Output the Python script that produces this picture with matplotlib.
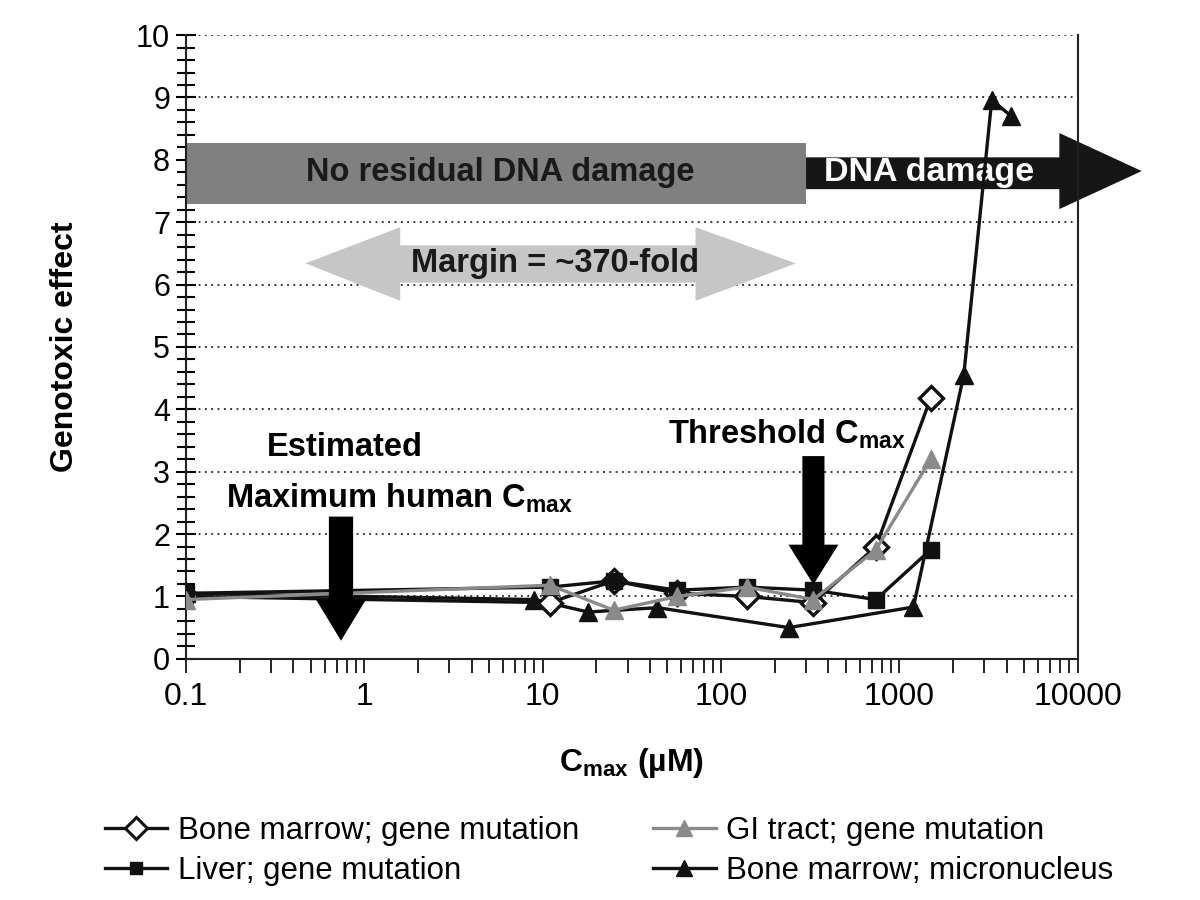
import numpy as np
import matplotlib
matplotlib.use('Agg')
import matplotlib.pyplot as plt
from matplotlib.patches import Polygon
from matplotlib.ticker import MultipleLocator, LogLocator, FixedLocator, NullFormatter
from matplotlib.lines import Line2D

plt.rcParams['font.family'] = ['Liberation Sans', 'DejaVu Sans']
plt.rcParams['mathtext.fontset'] = 'custom'
plt.rcParams['mathtext.rm'] = 'Liberation Sans'
plt.rcParams['mathtext.bf'] = 'Liberation Sans:bold'

#%% data
bm_gene_x = [0.1, 11, 25, 57, 140, 330, 740, 1500]
bm_gene_y = [1.0, 0.9, 1.25, 1.05, 1.0, 0.9, 1.8, 4.18]

gi_x = [0.1, 11, 25, 57, 140, 330, 740, 1500]
gi_y = [0.95, 1.18, 0.78, 1.0, 1.15, 0.95, 1.75, 3.2]

liver_x = [0.1, 11, 25, 57, 140, 330, 740, 1500]
liver_y = [1.05, 1.15, 1.25, 1.1, 1.15, 1.1, 0.95, 1.75]

micro_x = [0.1, 9, 18, 44, 240, 1200, 2300, 3300, 4250]
micro_y = [1.05, 0.95, 0.75, 0.82, 0.5, 0.83, 4.55, 8.96, 8.7]

labels = ['Bone marrow; gene mutation', 'Liver; gene mutation',
          'GI tract; gene mutation', 'Bone marrow; micronucleus']

x_ticks = [0.1, 1, 10, 100, 1000, 10000]
x_ticklabels = ['0.1', '1', '10', '100', '1000', '10000']
y_ticks = list(range(0, 11))

human_cmax = 0.74      # estimated maximum human Cmax
threshold_cmax = 330   # threshold Cmax

#%% figure
fig = plt.figure(figsize=(12, 9), dpi=100)
ax = fig.add_axes([0.155, 0.268, 0.743, 0.693])
ax.set_xscale('log')
ax.set_xlim(0.1, 10000)
ax.set_ylim(0, 10)

GRAY = '#8a8a8a'
ax.plot(micro_x, micro_y, color='#111111', lw=2.4, marker='^', ms=13.5,
        mfc='#111111', mec='#111111', zorder=3)
ax.plot(bm_gene_x, bm_gene_y, color='#111111', lw=2.4, marker='D', ms=12,
        mfc='white', mec='#111111', mew=2.4, zorder=4)
ax.plot(liver_x, liver_y, color='#111111', lw=2.4, marker='s', ms=11,
        mfc='#111111', mec='#111111', zorder=5)
ax.plot(gi_x, gi_y, color=GRAY, lw=2.4, marker='^', ms=13.5,
        mfc=GRAY, mec=GRAY, zorder=6)


def lx(x0, dec):
    # shift a log-axis x position by a number of decades
    return x0 * 10 ** dec


# grey band: no residual DNA damage
ax.add_patch(Polygon([(0.1, 7.29), (300, 7.29), (300, 8.27), (0.1, 8.27)],
                     closed=True, fc='#808080', ec='none', zorder=2))
ax.text(lx(0.1, 1.76), 7.8, 'No residual DNA damage', ha='center', va='center',
        fontsize=23.5, fontweight='bold', color='#1a1a1a', zorder=2.5)

# black arrow: DNA damage
ax.add_patch(Polygon([(300, 7.53), (7900, 7.53), (7900, 7.21), (22900, 7.82),
                      (7900, 8.43), (7900, 8.04), (300, 8.04)],
                     closed=True, fc='#161616', ec='none', zorder=2, clip_on=False))
ax.text(lx(300, 0.69), 7.8, 'DNA damage', ha='center', va='center',
        fontsize=24.5, fontweight='bold', color='white', zorder=2.5)

# margin double arrow
ax.add_patch(Polygon([(0.467, 6.34), (1.59, 6.92), (1.59, 6.63), (72, 6.63), (72, 6.92),
                      (263, 6.34), (72, 5.74), (72, 6.03), (1.59, 6.03), (1.59, 5.74)],
                     closed=True, fc='#c6c6c6', ec='none', zorder=2))
ax.text(lx(0.1, 2.07), 6.34, 'Margin = ~370-fold', ha='center', va='center',
        fontsize=23.5, fontweight='bold', color='#1a1a1a', zorder=2.5)


def down_arrow(xc, y_top, y_neck, y_tip, shaft_w, head_w):
    verts = [(lx(xc, -shaft_w), y_top), (lx(xc, shaft_w), y_top),
             (lx(xc, shaft_w), y_neck), (lx(xc, head_w), y_neck), (xc, y_tip),
             (lx(xc, -head_w), y_neck), (lx(xc, -shaft_w), y_neck)]
    ax.add_patch(Polygon(verts, closed=True, fc='black', ec='none', zorder=7))


down_arrow(human_cmax, 2.28, 0.95, 0.29, 0.068, 0.14)
down_arrow(threshold_cmax, 3.25, 1.83, 1.19, 0.062, 0.14)

ax.text(lx(0.1, 0.89), 3.38, 'Estimated', ha='center', va='center',
        fontsize=23.5, fontweight='bold', zorder=8)
ax.text(lx(0.1, 1.2), 2.58, r'Maximum human C$_\mathbf{max}$', ha='center', va='center',
        fontsize=23.5, fontweight='bold', zorder=8)
ax.text(lx(0.1, 3.37), 3.6, r'Threshold C$_\mathbf{max}$', ha='center', va='center',
        fontsize=23.5, fontweight='bold', zorder=8)

#%% axes styling
ax.spines['top'].set_visible(False)
for s in ['left', 'right', 'bottom']:
    ax.spines[s].set_linewidth(1.5)
    ax.spines[s].set_color('#222222')

ax.yaxis.set_major_locator(FixedLocator(y_ticks))
ax.yaxis.set_minor_locator(MultipleLocator(0.2))
ax.tick_params(axis='y', which='major', direction='inout', length=15, width=1.5,
               labelsize=22, pad=4)
ax.tick_params(axis='y', which='minor', direction='inout', length=13, width=1.5)
ax.tick_params(axis='y', which='both', right=False)

ax.xaxis.set_major_locator(FixedLocator(x_ticks))
ax.set_xticklabels(x_ticklabels)
ax.xaxis.set_minor_locator(LogLocator(base=10, subs=np.arange(2, 10), numticks=20))
ax.xaxis.set_minor_formatter(NullFormatter())
ax.tick_params(axis='x', which='both', direction='out', length=10, width=1.2,
               labelsize=23, pad=7)

ax.yaxis.grid(True, which='major', linestyle=(0, (1, 2.5)), color='#222222', lw=1.3)
ax.set_axisbelow(True)

ax.set_ylabel('Genotoxic effect', fontsize=23, fontweight='bold', labelpad=40)
ax.set_xlabel(r'C$_\mathbf{max}$ (µM)', fontsize=23, fontweight='bold', labelpad=24)

#%% legend
handles = [
    Line2D([], [], color='#111111', lw=2.4, marker='D', ms=11, mfc='white', mec='#111111', mew=2.2),
    Line2D([], [], color='#111111', lw=2.4, marker='s', ms=9, mfc='#111111', mec='#111111'),
    Line2D([], [], color=GRAY, lw=2.4, marker='^', ms=12, mfc=GRAY, mec=GRAY),
    Line2D([], [], color='#111111', lw=2.4, marker='^', ms=12, mfc='#111111', mec='#111111'),
]
fig.legend(handles, labels, ncol=2, loc='upper left', bbox_to_anchor=(0.064, 0.1244),
           bbox_transform=fig.transFigure, frameon=False, fontsize=22.5,
           handlelength=2.0, handletextpad=0.35, columnspacing=2.35, labelspacing=0.3)

fig.savefig('out.png', dpi=100)
